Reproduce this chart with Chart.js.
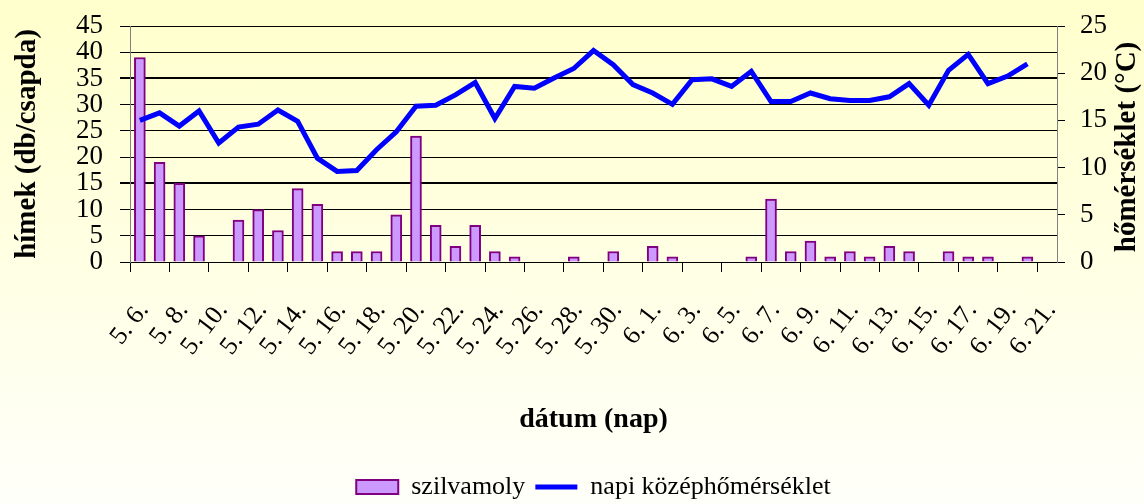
<!DOCTYPE html>
<html>
<head>
<meta charset="utf-8">
<script src="https://cdn.jsdelivr.net/npm/chart.js@4.4.1/dist/chart.umd.min.js"></script>
<style>
  html, body { margin: 0; padding: 0; }
  #wrap { width: 1144px; height: 504px; background: linear-gradient(#ffffcc, #fffffa); }
</style>
</head>
<body>
<div id="wrap"><canvas id="chart" width="1144" height="504"></canvas></div>
<script>
const dates = [
  '5. 6.', '5. 7.', '5. 8.', '5. 9.', '5. 10.', '5. 11.', '5. 12.', '5. 13.', '5. 14.', '5. 15.',
  '5. 16.', '5. 17.', '5. 18.', '5. 19.', '5. 20.', '5. 21.', '5. 22.', '5. 23.', '5. 24.', '5. 25.',
  '5. 26.', '5. 27.', '5. 28.', '5. 29.', '5. 30.', '5. 31.', '6. 1.', '6. 2.', '6. 3.', '6. 4.',
  '6. 5.', '6. 6.', '6. 7.', '6. 8.', '6. 9.', '6. 10.', '6. 11.', '6. 12.', '6. 13.', '6. 14.',
  '6. 15.', '6. 16.', '6. 17.', '6. 18.', '6. 19.', '6. 20.', '6. 21.'
];

// hímek (db/csapda)
const moths = [
  39, 19, 15, 5, 0, 8, 10, 6, 14, 11,
  2, 2, 2, 9, 24, 7, 3, 7, 2, 1,
  0, 0, 1, 0, 2, 0, 3, 1, 0, 0,
  0, 1, 12, 2, 4, 1, 2, 1, 3, 2,
  0, 2, 1, 1, 0, 1, 0
];

// napi középhőmérséklet (°C)
const temperature = [
  15.0, 15.8, 14.4, 16.0, 12.6, 14.3, 14.6, 16.1, 14.9, 11.0,
  9.6, 9.7, 11.9, 13.8, 16.5, 16.6, 17.7, 19.0, 15.2, 18.6,
  18.4, 19.5, 20.5, 22.4, 20.9, 18.8, 17.9, 16.7, 19.3, 19.4,
  18.6, 20.2, 17.0, 17.0, 17.9, 17.3, 17.1, 17.1, 17.5, 18.9,
  16.6, 20.3, 22.0, 18.9, 19.7, 21.0, null
];

const serif = '"Liberation Serif", "Times New Roman", serif';
Chart.defaults.color = '#000';
Chart.defaults.font.family = serif;

const rightTitle = {
  id: 'rightTitle',
  afterDraw(chart) {
    const { ctx, chartArea } = chart;
    ctx.save();
    ctx.translate(chart.scales.y1.right - 16, (chartArea.top + chartArea.bottom) / 2 + 3);
    ctx.rotate(-Math.PI / 2);
    ctx.font = 'bold 29px ' + serif;
    ctx.fillStyle = '#000';
    ctx.textAlign = 'center';
    ctx.textBaseline = 'middle';
    ctx.fillText('hőmérséklet (°C)', 0, 0);
    ctx.restore();
  }
};

// keep the tick label padding from pushing the plot area down
const fitVertical = width => s => {
  s.width = width;
  s.paddingTop = 10;
  s.paddingBottom = 10;
};

new Chart(document.getElementById('chart'), {
  data: {
    labels: dates,
    datasets: [
      {
        type: 'bar',
        label: 'szilvamoly',
        data: moths,
        yAxisID: 'y',
        backgroundColor: '#cc99ff',
        borderColor: '#800080',
        borderWidth: 2,
        barThickness: 11,
        order: 1
      },
      {
        type: 'line',
        label: 'napi középhőmérséklet',
        data: temperature,
        yAxisID: 'y1',
        borderColor: '#0000ff',
        backgroundColor: '#0000ff',
        borderWidth: 5,
        pointRadius: 0,
        tension: 0,
        order: 0
      }
    ]
  },
  options: {
    responsive: false,
    animation: false,
    layout: { padding: { top: 26, left: 0, right: 0, bottom: -6 } },
    plugins: {
      tooltip: { enabled: false },
      legend: {
        position: 'bottom',
        fullSize: false,
        labels: {
          font: { size: 26 },
          usePointStyle: true,
          pointStyleWidth: 42,
          boxHeight: 14,
          padding: 10,
          sort: (a, b) => a.datasetIndex - b.datasetIndex,
          generateLabels(chart) {
            const items = Chart.defaults.plugins.legend.labels.generateLabels(chart);
            items.forEach(it => { it.pointStyle = it.datasetIndex === 0 ? 'rect' : 'line'; });
            return items;
          }
        }
      }
    },
    scales: {
      x: {
        offset: true,
        grid: {
          offset: true,
          drawOnChartArea: false,
          tickLength: 10,
          color: c => c.index % 2 === 0 ? '#000' : 'rgba(0,0,0,0)'
        },
        border: { color: '#000', width: 1 },
        ticks: {
          autoSkip: false,
          minRotation: 52,
          maxRotation: 52,
          padding: 24,
          labelOffset: 4,
          font: { size: 26 },
          callback: (v, i) => i % 2 === 0 ? dates[i] : ''
        },
        title: {
          display: true,
          text: 'dátum (nap)',
          font: { size: 28, weight: 'bold' },
          padding: { top: 0, bottom: 27 }
        },
        afterFit: s => { s.height = 202; }
      },
      y: {
        position: 'left',
        min: 0,
        max: 45,
        ticks: { stepSize: 5, autoSkip: false, padding: 17, font: { size: 27 } },
        grid: {
          color: '#000',
          tickLength: 10,
          lineWidth: c => (c.tick.value === 15 || c.tick.value === 35) ? 2 : 1
        },
        border: { color: '#808080', width: 1 },
        title: {
          display: true,
          text: 'hímek (db/csapda)',
          font: { size: 29, weight: 'bold' },
          padding: { top: 10, bottom: 0 }
        },
        afterFit: fitVertical(130)
      },
      y1: {
        position: 'right',
        min: 0,
        max: 25,
        ticks: { stepSize: 5, autoSkip: false, padding: 15, font: { size: 27 } },
        grid: { drawOnChartArea: false, color: '#000', tickLength: 8 },
        border: { color: '#808080', width: 1 },
        afterFit: fitVertical(87)
      }
    }
  },
  plugins: [rightTitle]
});
</script>
</body>
</html>
